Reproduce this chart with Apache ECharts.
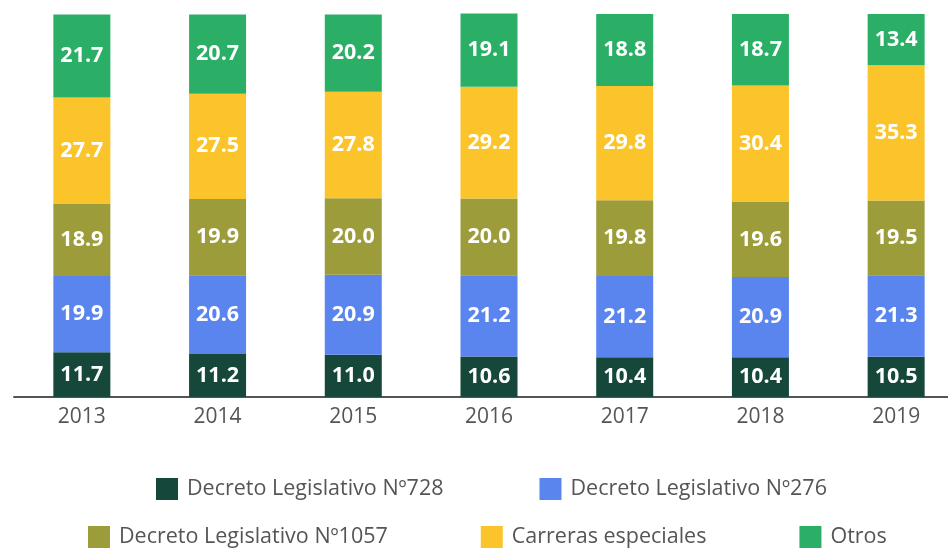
<!DOCTYPE html>
<html>
<head>
<meta charset="utf-8">
<script src="https://cdn.jsdelivr.net/npm/echarts@6/dist/echarts.min.js"></script>
<style>
  html, body { margin: 0; padding: 0; background: #fff; overflow: hidden; }
  /* el lienzo es algo más ancho que la ventana: el eje sigue hasta el borde derecho */
  #chart { width: 980px; height: 549px; }
</style>
</head>
<body>
<div id="chart"></div>
<script>
// años y series (valores en %)
const years = ['2013', '2014', '2015', '2016', '2017', '2018', '2019']
const dl728 = [11.7, 11.2, 11.0, 10.6, 10.4, 10.4, 10.5]
const dl276 = [19.9, 20.6, 20.9, 21.2, 21.2, 20.9, 21.3]
const dl1057 = [18.9, 19.9, 20.0, 20.0, 19.8, 19.6, 19.5]
const carreras = [27.7, 27.5, 27.8, 29.2, 29.8, 30.4, 35.3]
const otros = [21.7, 20.7, 20.2, 19.1, 18.8, 18.7, 13.4]

const seriesDefs = [
  { name: 'Decreto Legislativo Nº728', data: dl728, color: '#15473a' },
  { name: 'Decreto Legislativo Nº276', data: dl276, color: '#5a84ee' },
  { name: 'Decreto Legislativo Nº1057', data: dl1057, color: '#9c9d3a' },
  { name: 'Carreras especiales', data: carreras, color: '#fbc42a' },
  { name: 'Otros', data: otros, color: '#2baf66' }
]

const chart = echarts.init(document.getElementById('chart'))

const legendText = {
  color: '#555',
  fontSize: 21.5,
  fontFamily: '"Open Sans", sans-serif',
  padding: [0, 0, 0, 4]
}

const option = {
  animation: false,
  backgroundColor: '#fff',
  grid: { left: 14, right: 16, top: 14, bottom: 152 },
  legend: [
    {
      data: seriesDefs.slice(0, 2).map(s => s.name),
      left: 156,
      top: 478,
      padding: 0,
      icon: 'rect',
      itemWidth: 22,
      itemHeight: 22,
      itemGap: 96,
      textStyle: legendText
    },
    {
      data: seriesDefs.slice(2).map(s => s.name),
      left: 88,
      top: 526,
      padding: 0,
      icon: 'rect',
      itemWidth: 22,
      itemHeight: 22,
      itemGap: 93,
      textStyle: legendText
    }
  ],
  xAxis: {
    type: 'category',
    data: years,
    axisLine: { lineStyle: { color: '#555', width: 2 } },
    axisTick: { show: false },
    axisLabel: {
      color: '#555',
      fontSize: 21,
      fontFamily: '"Open Sans", sans-serif',
      margin: 10
    }
  },
  yAxis: {
    type: 'value',
    min: 0,
    max: 100,
    show: false,
    splitLine: { show: false }
  },
  series: seriesDefs.map(s => ({
    name: s.name,
    type: 'bar',
    stack: 'total',
    barWidth: 57,
    clip: false,
    data: s.data,
    itemStyle: { color: s.color },
    label: {
      show: true,
      position: 'inside',
      color: '#fff',
      fontSize: 21.5,
      fontWeight: 'bold',
      fontFamily: '"Open Sans", sans-serif',
      formatter: p => p.value.toFixed(1)
    }
  }))
}

chart.setOption(option)
</script>
</body>
</html>
